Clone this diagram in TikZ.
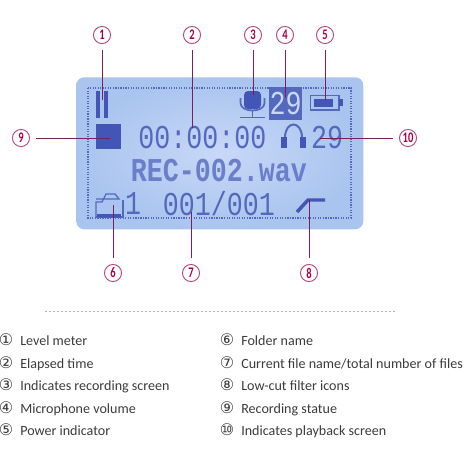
\documentclass[tikz,border=0pt]{standalone}
\usepackage{fontspec}
\setmainfont{Carlito}
\newfontfamily\lcdfont{Liberation Mono}
\newfontfamily\numfont{DejaVu Sans}
\definecolor{magline}{HTML}{7A1F5E}
\definecolor{magring}{HTML}{B5487F}
\definecolor{magtxt}{HTML}{A80050}
\definecolor{lcd}{HTML}{5468BE}
\definecolor{lcddark}{HTML}{4356B8}
\definecolor{panelmid}{HTML}{C8D8F7}
\definecolor{paneledge}{HTML}{A9C4EE}
\definecolor{legendtxt}{HTML}{3C3C3C}
\tikzset{
 x=0.75pt,y=-0.75pt,
 tag/.style={circle,draw=magring,line width=0.7pt,minimum size=12.8pt,inner sep=0pt,text=magtxt,font=\bfseries\fontsize{11}{11}\selectfont},
 lead/.style={draw=magline,line width=0.65pt},
 lcdtext/.style={inner sep=0pt,text=lcd,font=\lcdfont\fontsize{20}{20}\selectfont},
 lcdbold/.style={inner sep=0pt,text=lcd!80!panelmid,font=\lcdfont\bfseries\fontsize{20}{20}\selectfont},
 legnum/.style={inner sep=0pt,anchor=base,text=legendtxt,font=\numfont\fontsize{12}{12}\selectfont},
 legtxt/.style={inner sep=0pt,anchor=base west,text=legendtxt,font=\fontsize{10.55}{12}\selectfont},
 iconline/.style={draw=lcd,line width=1pt}
}
\newcommand\tall[1]{\scalebox{1}[1.25]{#1}}
\newcommand\nar[1]{\scalebox{0.72}[1]{#1}}
\begin{document}
\begin{tikzpicture}
\useasboundingbox (0,0) rectangle (464,464);
\fill[white] (0,0) rectangle (464,464);
% panel
\node[inner sep=0pt,minimum width=215.25pt,minimum height=114pt,rounded corners=6pt,anchor=north west,
  inner color=panelmid,outer color=paneledge] (panel) at (76,77) {};
% level meter
\fill[lcddark] (96,91) rectangle (100,118);
\fill[lcddark] (104,91) rectangle (108,118);
\fill[lcddark] (96,124) rectangle (121,149);
% time
\node[lcdtext,anchor=west] (time) at (138,138) {\tall{00:00:00}};
% mic
\fill[lcddark,rounded corners=3pt] (244,91) rectangle (261,109);
\draw[iconline,line width=1.3pt] (240.5,98) -- (240.5,103) .. controls (240.5,113) and (264.5,113) .. (264.5,103) -- (264.5,98);
\draw[iconline,line width=1.3pt] (252.5,111) -- (252.5,117);
\draw[iconline,line width=1.3pt] (240,117.5) -- (265,117.5);
% 29 inverted
\fill[lcd] (269,87) rectangle (302,120);
\node[lcdtext,text=panelmid] (vol) at (285.5,103.5) {\tall{29}};
% battery
\draw[iconline,line width=1.3pt] (310.5,95.5) rectangle (339,110);
\fill[lcddark] (339,99) rectangle (343,106);
\fill[lcddark] (314,99) rectangle (333,106.5);
% headphones
\draw[iconline,line width=1.5pt] (285,138) .. controls (285,120) and (302,120) .. (302,138);
\fill[lcddark] (281,137) rectangle (287,148);
\fill[lcddark] (300,137) rectangle (306,148);
\node[lcdtext] (pb) at (327,138) {\tall{29}};
% file
\node[lcdbold] (file) at (219,171) {\tall{REC-002.wav}};
% folder
\draw[iconline] (96,217) -- (96,202) -- (102,202) -- (106,194) -- (115,194) -- (119,199) -- (96,199);
\draw[iconline] (123,200) -- (123,217) -- (96,217);
\fill[lcddark] (97,214) rectangle (121,218);
\node[lcdtext] (fold) at (133,204) {\tall{1}};
\node[lcdtext] (cnt) at (219,204) {\tall{001/001}};
% low cut
\draw[lcddark,line width=2.6pt] (297,212) -- (308,200) -- (325,200);
\draw[lcd,line width=0.9pt,densely dotted] (88,88) rectangle (351,218);
% tags
\node[tag] (t1) at (102,35) {\nar{1}};
\node[tag] (t2) at (192,35) {\nar{2}};
\node[tag] (t3) at (253,35) {\nar{3}};
\node[tag] (t4) at (285,35) {\nar{4}};
\node[tag] (t5) at (325,35) {\nar{5}};
\node[tag] (t6) at (113,273) {\nar{6}};
\node[tag] (t7) at (191,273) {\nar{7}};
\node[tag] (t8) at (309,273) {\nar{8}};
\node[tag] (t9) at (21,138) {\nar{9}};
\node[tag] (t10) at (408,138) {\nar{10}};
\coordinate (e1) at (102,100);
\coordinate (e2) at (192,128);
\coordinate (e3) at (253,95);
\coordinate (e4) at (285,98);
\coordinate (e5) at (325,100);
\coordinate (e6) at (113,205);
\coordinate (e7) at (191,212);
\coordinate (e8) at (309,200);
\coordinate (e9) at (110,138);
\coordinate (e10) at (320,138);
\foreach \n in {1,...,10}{\draw[lead,shorten <=4.5pt] (t\n) -- (e\n);}
% separator
\coordinate (sa) at (45,311);
\coordinate (sb) at (395,311);
\draw[gray!60,line width=0.7pt,dash pattern=on 1.5pt off 1.5pt] (sa) -- (sb);
% legend
\foreach \n/\s/\t/\y in {a/①/Level meter/345.5,b/②/Elapsed time/368,c/③/Indicates recording screen/390.5,d/④/Microphone volume/413,e/⑤/Power indicator/435.5}{
 \node[legnum] (n\n) at (6,\y) {\s};
 \node[legtxt] (l\n) at (20,\y) {\t};
}
\foreach \n/\s/\t/\y in {f/⑥/Folder name/345.5,h/⑧/Low-cut filter icons/390.5,i/⑨/Recording statue/413,j/⑩/Indicates playback screen/435.5}{
 \node[legnum] (n\n) at (227,\y) {\s};
 \node[legtxt] (l\n) at (241,\y) {\t};
}
\node[legnum] (ng) at (227,368) {⑦};
\node[legtxt] (lg) at (241,368) {Current file name/total number of files};
\end{tikzpicture}
\end{document}
